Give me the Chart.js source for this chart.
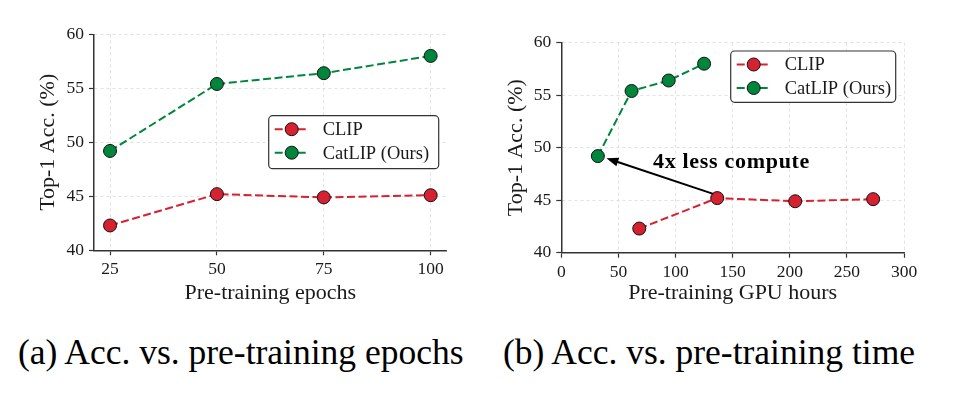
<!DOCTYPE html>
<html><head><meta charset="utf-8">
<script src="https://cdn.jsdelivr.net/npm/chart.js@4.4.0/dist/chart.umd.min.js"></script>
<style>
body{margin:0;background:#fff;width:958px;height:402px;overflow:hidden;position:relative;font-family:'Liberation Serif',serif}
.panel{position:absolute;top:0}
.panel canvas{display:block}
.cap{position:absolute;top:335px;font-size:35.5px;line-height:35px;color:#000;white-space:nowrap}
</style></head><body>
<div class="panel" style="left:0"><canvas id="epochChart" width="470" height="320" style="width:470px;height:320px"></canvas></div>
<div class="panel" style="left:480px"><canvas id="timeChart" width="478" height="320" style="width:478px;height:320px"></canvas></div>
<div class="cap" style="left:18px">(a) Acc. vs. pre-training epochs</div>
<div class="cap" style="left:503px">(b) Acc. vs. pre-training time</div>
<script>
// data
const epochs = [25,50,75,100];
const clipAcc = [42.3,45.2,44.9,45.1];
const catlipAcc = [49.2,55.4,56.4,58.0];
const clipHours = [68.25,136.5,204.75,273];
const catlipHours = [32,61.5,94,125];
const accTicks = [40,45,50,55,60];
const epochTicks = [25,50,75,100];
const hourTicks = [0,50,100,150,200,250,300];
const seriesNames = ['CLIP','CatLIP (Ours)'];
const seriesColors = ['#d62130','#00853d'];

const SERIF = "'Liberation Serif', serif";
const INK = '#1a1a1a';

function pts(xs, ys){ return xs.map((x,i)=>({x:x, y:ys[i]})); }

function dataset(i, data){
  return {
    label: seriesNames[i], data: data,
    borderColor: seriesColors[i], backgroundColor: seriesColors[i],
    borderWidth: 2, borderDash: [8,3.5], tension: 0,
    pointRadius: 6.5, pointHoverRadius: 6.5, pointBorderWidth: 1,
    pointBorderColor: '#111', pointBackgroundColor: seriesColors[i]
  };
}

function scales(xMin, xMax, xTicks, xTitle, yWidth, xHeight){
  const grid = {color:'#dadada', lineWidth:0.8, tickColor:'#333', tickLength:5, tickWidth:1.2};
  const border = {display:true, color:'#333', width:1.5, dash:[3,3]};
  return {
    x:{
      type:'linear', min:xMin, max:xMax,
      afterBuildTicks: s => { s.ticks = xTicks.map(v=>({value:v})); },
      afterFit: s => { s.height = xHeight; },
      grid: grid, border: border,
      ticks:{font:{family:SERIF,size:17.5}, color:INK, padding:4, maxRotation:0},
      title:{display:true, text:xTitle, font:{family:SERIF,size:22}, color:INK, padding:{top:0,bottom:3.5}}
    },
    y:{
      min:40, max:60,
      afterBuildTicks: s => { s.ticks = accTicks.map(v=>({value:v})); },
      afterFit: s => { s.width = yWidth; },
      grid: grid, border: border,
      ticks:{font:{family:SERIF,size:17.5}, color:INK, padding:5},
      title:{display:true, text:'Top-1 Acc. (%)', font:{family:SERIF,size:22}, color:INK, padding:{top:4,bottom:0}}
    }
  };
}

// legend with line + marker, like matplotlib
function lineLegend(box){
  return {
    id:'lineLegend',
    afterDraw(chart){
      const c = chart.ctx;
      c.save();
      c.beginPath();
      c.roundRect(box.x, box.y, box.w, box.h, 4);
      c.fillStyle = '#fff'; c.fill();
      c.lineWidth = 1.2; c.strokeStyle = '#333'; c.stroke();
      chart.data.datasets.forEach((ds,i)=>{
        const yy = box.y + 13.5 + i*23.5;
        c.beginPath();
        c.setLineDash([8,3.5]);
        c.strokeStyle = ds.borderColor; c.lineWidth = 2;
        c.moveTo(box.x+6, yy); c.lineTo(box.x+39, yy); c.stroke();
        c.setLineDash([]);
        c.beginPath();
        c.arc(box.x+23, yy, 6.5, 0, Math.PI*2);
        c.fillStyle = ds.pointBackgroundColor; c.fill();
        c.lineWidth = 1; c.strokeStyle = '#111'; c.stroke();
        c.fillStyle = INK;
        c.font = '18.5px ' + SERIF;
        c.textBaseline = 'middle';
        c.fillText(ds.label, box.x+54, yy+1);
      });
      c.restore();
    }
  };
}

// arrow + label on the time chart
const computeNote = {
  id:'computeNote',
  afterDatasetsDraw(chart){
    const {ctx:c, scales:{x,y}} = chart;
    const x0 = x.getPixelForValue(133), y0 = y.getPixelForValue(45.6);
    const x1 = x.getPixelForValue(39.5), y1 = y.getPixelForValue(49.0);
    const a = Math.atan2(y1-y0, x1-x0);
    c.save();
    c.strokeStyle = '#000'; c.fillStyle = '#000'; c.lineWidth = 2;
    c.beginPath();
    c.moveTo(x0,y0); c.lineTo(x1-8*Math.cos(a), y1-8*Math.sin(a)); c.stroke();
    c.beginPath();
    c.moveTo(x1,y1);
    c.lineTo(x1-12*Math.cos(a)+4.5*Math.sin(a), y1-12*Math.sin(a)-4.5*Math.cos(a));
    c.lineTo(x1-12*Math.cos(a)-4.5*Math.sin(a), y1-12*Math.sin(a)+4.5*Math.cos(a));
    c.closePath(); c.fill();
    c.font = 'bold 22px ' + SERIF;
    c.letterSpacing = '0.7px';
    c.textAlign = 'center'; c.textBaseline = 'middle';
    c.fillText('4x less compute', x.getPixelForValue(149), y.getPixelForValue(48.57));
    c.restore();
  }
};

const common = {
  responsive:false, animation:false,
  plugins:{legend:{display:false}, tooltip:{enabled:false}}
};

new Chart(document.getElementById('epochChart'), {
  type:'line',
  data:{datasets:[dataset(0, pts(epochs, clipAcc)), dataset(1, pts(epochs, catlipAcc))]},
  options:Object.assign({}, common, {
    layout:{padding:{left:31, top:34.3, right:23.3, bottom:10}},
    scales: scales(21.25, 103.75, epochTicks, 'Pre-training epochs', 63, 59.7)
  }),
  plugins:[lineLegend({x:268.7, y:115.7, w:170, h:53})]
});

new Chart(document.getElementById('timeChart'), {
  type:'line',
  data:{datasets:[dataset(0, pts(clipHours, clipAcc)), dataset(1, pts(catlipHours, catlipAcc))]},
  options:Object.assign({}, common, {
    layout:{padding:{left:19.5, top:42.7, right:54, bottom:10}},
    scales: scales(0, 300, hourTicks, 'Pre-training GPU hours', 61.8, 57.3)
  }),
  plugins:[computeNote, lineLegend({x:250.7, y:51, w:165, h:51.3})]
});
</script>
</body></html>
